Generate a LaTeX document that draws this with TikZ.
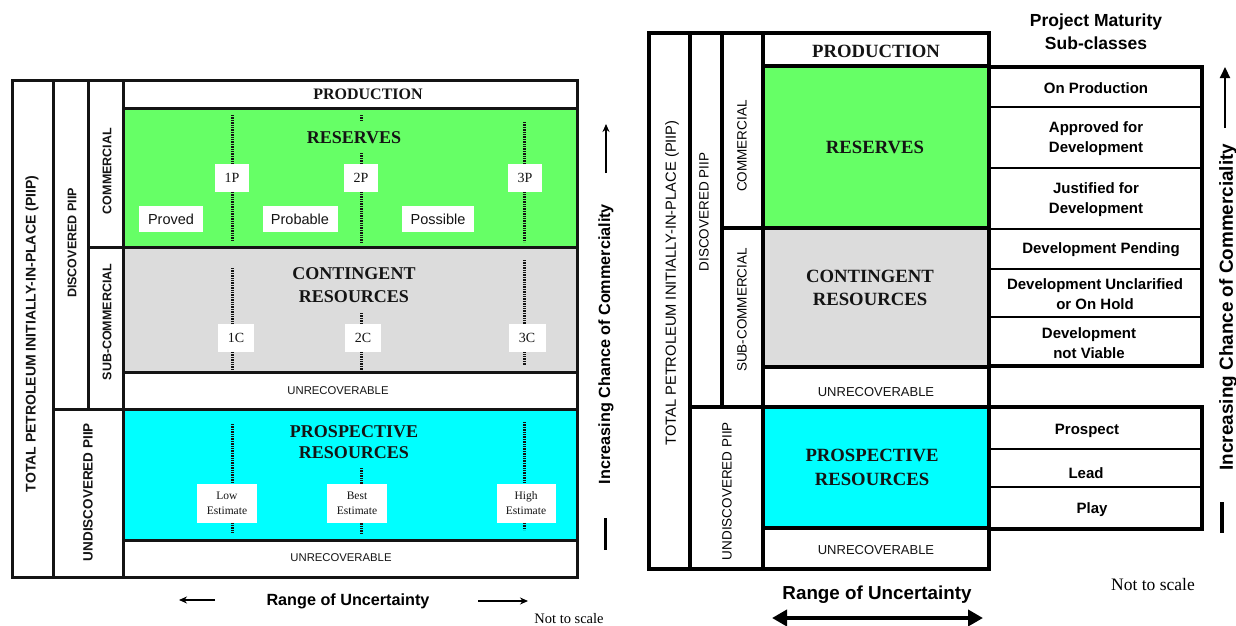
\documentclass[tikz,border=0pt]{standalone}
\usepackage{fontspec}
\setmainfont{Liberation Serif}
\setsansfont{Liberation Sans}
\usetikzlibrary{arrows.meta}
\definecolor{resgreen}{HTML}{66FF66}
\definecolor{congray}{HTML}{DCDCDC}
\definecolor{procyan}{HTML}{00FFFF}
\definecolor{ink}{HTML}{141414}
\newcommand{\fsz}[2]{\fontsize{#1}{#2}\selectfont}

\begin{document}
\begin{tikzpicture}[x=1pt,y=-1pt,
  lgrid/.style={line width=3pt, draw=ink},
  rgrid/.style={line width=4pt, draw=black},
  thinrow/.style={line width=1.2pt, draw=black},
  dots/.style={line width=3pt, dash pattern=on 1.4pt off 1pt, draw=ink},
  tag/.style={fill=white, inner sep=0pt, text=ink, font=\fsz{14}{14}},
  wtag/.style={fill=white, inner sep=0pt, text=ink, font=\sffamily\fsz{14.5}{14.5}},
  etag/.style={fill=white, inner sep=0pt, text=ink, align=center, font=\fsz{11.5}{15}, minimum width=60pt, minimum height=39pt},
  cls/.style={text=ink, align=center, font=\bfseries\fsz{18}{23}},
  lside/.style={rotate=90, text=ink, font=\sffamily\bfseries\fsz{12.5}{12.5}},
  rside/.style={rotate=90, text=black, font=\sffamily\fsz{13.5}{13.5}},
  unrec/.style={text=ink, font=\sffamily\fsz{11.3}{11.3}},
  sub/.style={text=black, align=center, font=\sffamily\bfseries\fsz{15}{20}},
  axis/.style={text=black, font=\sffamily\bfseries},
  note/.style={text=black, font=\fsz{14.5}{14.5}}
]
\useasboundingbox (0,0) rectangle (1236,626);
\fill[white] (0,0) rectangle (1236,626);

% ---------------- left chart ----------------
\fill[resgreen] (123,108) rectangle (577,247);
\fill[congray]  (123,247) rectangle (577,372);
\fill[procyan]  (123,409) rectangle (577,540);

\draw[lgrid] (12,80) rectangle (577,577);
\draw[lgrid] (53,80) -- (53,577);
\draw[lgrid] (88,80) -- (88,409);
\draw[lgrid] (123,80) -- (123,577);
\draw[lgrid] (123,108) -- (577,108);
\draw[lgrid] (88,247) -- (577,247);
\draw[lgrid] (123,372) -- (577,372);
\draw[lgrid] (53,409) -- (577,409);
\draw[lgrid] (123,540) -- (577,540);

% uncertainty markers
\draw[dots] (232,115) -- (232,242);
\draw[dots] (361,115) -- (361,121) (361,153) -- (361,242);
\draw[dots] (524,122) -- (524,242);
\draw[dots] (232,268) -- (232,372);
\draw[dots] (361,313) -- (361,372);
\draw[dots] (524,260) -- (524,365);
\draw[dots] (232,424) -- (232,533);
\draw[dots] (361,468) -- (361,533);
\draw[dots] (524,422) -- (524,530);

\node[cls, font=\bfseries\fsz{16}{16}] (lprod) at (368,94) {PRODUCTION};
\node[cls] (lres) at (354,138) {RESERVES};
\node[cls] (lcon) at (354,285) {CONTINGENT\\RESOURCES};
\node[cls, font=\bfseries\fsz{18}{21}] (lpro) at (354,442) {PROSPECTIVE\\RESOURCES};
\node[unrec] (lunr1) at (338,391) {UNRECOVERABLE};
\node[unrec] (lunr2) at (341,558) {UNRECOVERABLE};

\node[tag, minimum width=34pt, minimum height=28pt] (p1) at (232,178) {1P};
\node[tag, minimum width=34pt, minimum height=28pt] (p2) at (361,178) {2P};
\node[tag, minimum width=34pt, minimum height=28pt] (p3) at (525,178) {3P};
\node[wtag, minimum width=64pt, minimum height=26pt] (proved) at (171,219) {Proved};
\node[wtag, minimum width=75pt, minimum height=26pt] (probable) at (300,219) {Probable};
\node[wtag, minimum width=72pt, minimum height=26pt] (possible) at (438,219) {Possible};
\node[tag, minimum width=36pt, minimum height=28pt] (c1) at (236,338) {1C};
\node[tag, minimum width=36pt, minimum height=28pt] (c2) at (363,338) {2C};
\node[tag, minimum width=37pt, minimum height=28pt] (c3) at (527,338) {3C};
\node[etag] (low) at (227,503) {Low\\Estimate};
\node[etag] (best) at (357,503) {Best\\Estimate};
\node[etag, minimum width=59pt] (high) at (526,503) {High\\Estimate};

\node[lside, font=\sffamily\bfseries\fsz{14}{14}] (ltot) at (32,334) {TOTAL PETROLEUM INITIALLY-IN-PLACE (PIIP)};
\node[lside] (ldis) at (72,243) {DISCOVERED PIIP};
\node[lside] (lcom) at (107,171) {COMMERCIAL};
\node[lside] (lsub) at (107,322) {SUB-COMMERCIAL};
\node[lside, font=\sffamily\bfseries\fsz{13.5}{13.5}] (lund) at (88,492) {UNDISCOVERED PIIP};

\node[axis, rotate=90, font=\sffamily\bfseries\fsz{16.2}{16.2}] (lchance) at (606,344) {Increasing Chance of Commerciality};
\coordinate (lup0) at (606,173);
\coordinate (lup1) at (606,124);
\draw[line width=2.2pt, -{Stealth[length=8pt,width=7pt]}] (lup0) -- (lup1);
\coordinate (lbar0) at (605,518);
\coordinate (lbar1) at (605,550);
\draw[line width=3pt] (lbar0) -- (lbar1);

\node[axis, font=\sffamily\bfseries\fsz{16.2}{16.2}] (lrange) at (348,601) {Range of Uncertainty};
\coordinate (lleft0) at (215,600);
\coordinate (lleft1) at (179,600);
\draw[line width=2pt, -{Stealth[length=8pt,width=7pt]}] (lleft0) -- (lleft1);
\coordinate (lright0) at (478,601);
\coordinate (lright1) at (528,601);
\draw[line width=2pt, -{Stealth[length=8pt,width=7pt]}] (lright0) -- (lright1);
\node[note] (lnote) at (569,619) {Not to scale};

% ---------------- right chart ----------------
\fill[resgreen] (763,66) rectangle (989,228);
\fill[congray]  (763,228) rectangle (989,367);
\fill[procyan]  (763,407) rectangle (989,528);

% maturity sub-class tables
\draw[thinrow] (989,107) -- (1202,107);
\draw[thinrow] (989,168) -- (1202,168);
\draw[thinrow] (989,229) -- (1202,229);
\draw[thinrow] (989,269) -- (1202,269);
\draw[thinrow] (989,317) -- (1202,317);
\draw[thinrow] (989,449) -- (1202,449);
\draw[thinrow] (989,487) -- (1202,487);
\draw[rgrid] (989,67) rectangle (1202,366);
\draw[rgrid] (989,407) rectangle (1202,529);

\draw[rgrid] (649,33) rectangle (989,569);
\draw[rgrid] (690,33) -- (690,569);
\draw[rgrid] (722,33) -- (722,407);
\draw[rgrid] (763,33) -- (763,569);
\draw[rgrid] (763,66) -- (989,66);
\draw[rgrid] (722,228) -- (989,228);
\draw[rgrid] (763,367) -- (989,367);
\draw[rgrid] (690,407) -- (989,407);
\draw[rgrid] (763,528) -- (989,528);

\node[cls, font=\bfseries\fsz{18.7}{18.7}] (rprod) at (876,51) {PRODUCTION};
\node[cls, font=\bfseries\fsz{18.7}{18.7}] (rres) at (875,147) {RESERVES};
\node[cls, font=\bfseries\fsz{18.7}{23}] (rcon) at (870,288) {CONTINGENT\\RESOURCES};
\node[cls, font=\bfseries\fsz{18.7}{24}] (rpro) at (872,467) {PROSPECTIVE\\RESOURCES};
\node[unrec, font=\sffamily\fsz{13}{13}] (runr1) at (876,392) {UNRECOVERABLE};
\node[unrec, font=\sffamily\fsz{13}{13}] (runr2) at (876,550) {UNRECOVERABLE};

\node[rside, font=\sffamily\fsz{14.7}{14.7}] (rtot) at (672,283) {TOTAL PETROLEUM INITIALLY-IN-PLACE (PIIP)};
\node[rside] (rdis) at (704,212) {DISCOVERED PIIP};
\node[rside] (rcom) at (742,146) {COMMERCIAL};
\node[rside] (rsub) at (742,310) {SUB-COMMERCIAL};
\node[rside] (rund) at (727,491) {UNDISCOVERED PIIP};

\node[sub, font=\sffamily\bfseries\fsz{17.5}{23}] (pms) at (1096,32) {Project Maturity\\Sub-classes};
\node[sub] (onprod) at (1096,88) {On Production};
\node[sub] (approved) at (1096,139) {Approved for\\Development};
\node[sub] (justified) at (1096,200) {Justified for\\Development};
\node[sub] (pending) at (1101,250) {Development Pending};
\node[sub] (unclar) at (1095,294) {Development Unclarified\\or On Hold};
\node[sub] (notviable) at (1089,343) {Development\\not Viable};
\node[sub] (prospect) at (1087,431) {Prospect};
\node[sub] (lead) at (1086,473) {Lead};
\node[sub] (play) at (1092,510) {Play};

\node[axis, rotate=90, font=\sffamily\bfseries\fsz{18.9}{18.9}] (rchance) at (1228,307) {Increasing Chance of Commerciality};
\coordinate (rup0) at (1225,128);
\coordinate (rup1) at (1225,67);
\draw[line width=2pt, -{Triangle[length=11pt,width=10pt]}] (rup0) -- (rup1);
\coordinate (rbar0) at (1222,502);
\coordinate (rbar1) at (1222,533);
\draw[line width=3.5pt] (rbar0) -- (rbar1);

\node[axis, font=\sffamily\bfseries\fsz{18.8}{18.8}] (rrange) at (877,595) {Range of Uncertainty};
\coordinate (rr0) at (772,618);
\coordinate (rr1) at (983,618);
\draw[line width=4pt, {Triangle[length=15pt,width=16pt]}-{Triangle[length=15pt,width=16pt]}] (rr0) -- (rr1);
\node[note, font=\fsz{17.5}{17.5}] (rnote) at (1153,585) {Not to scale};
\end{tikzpicture}
\end{document}
